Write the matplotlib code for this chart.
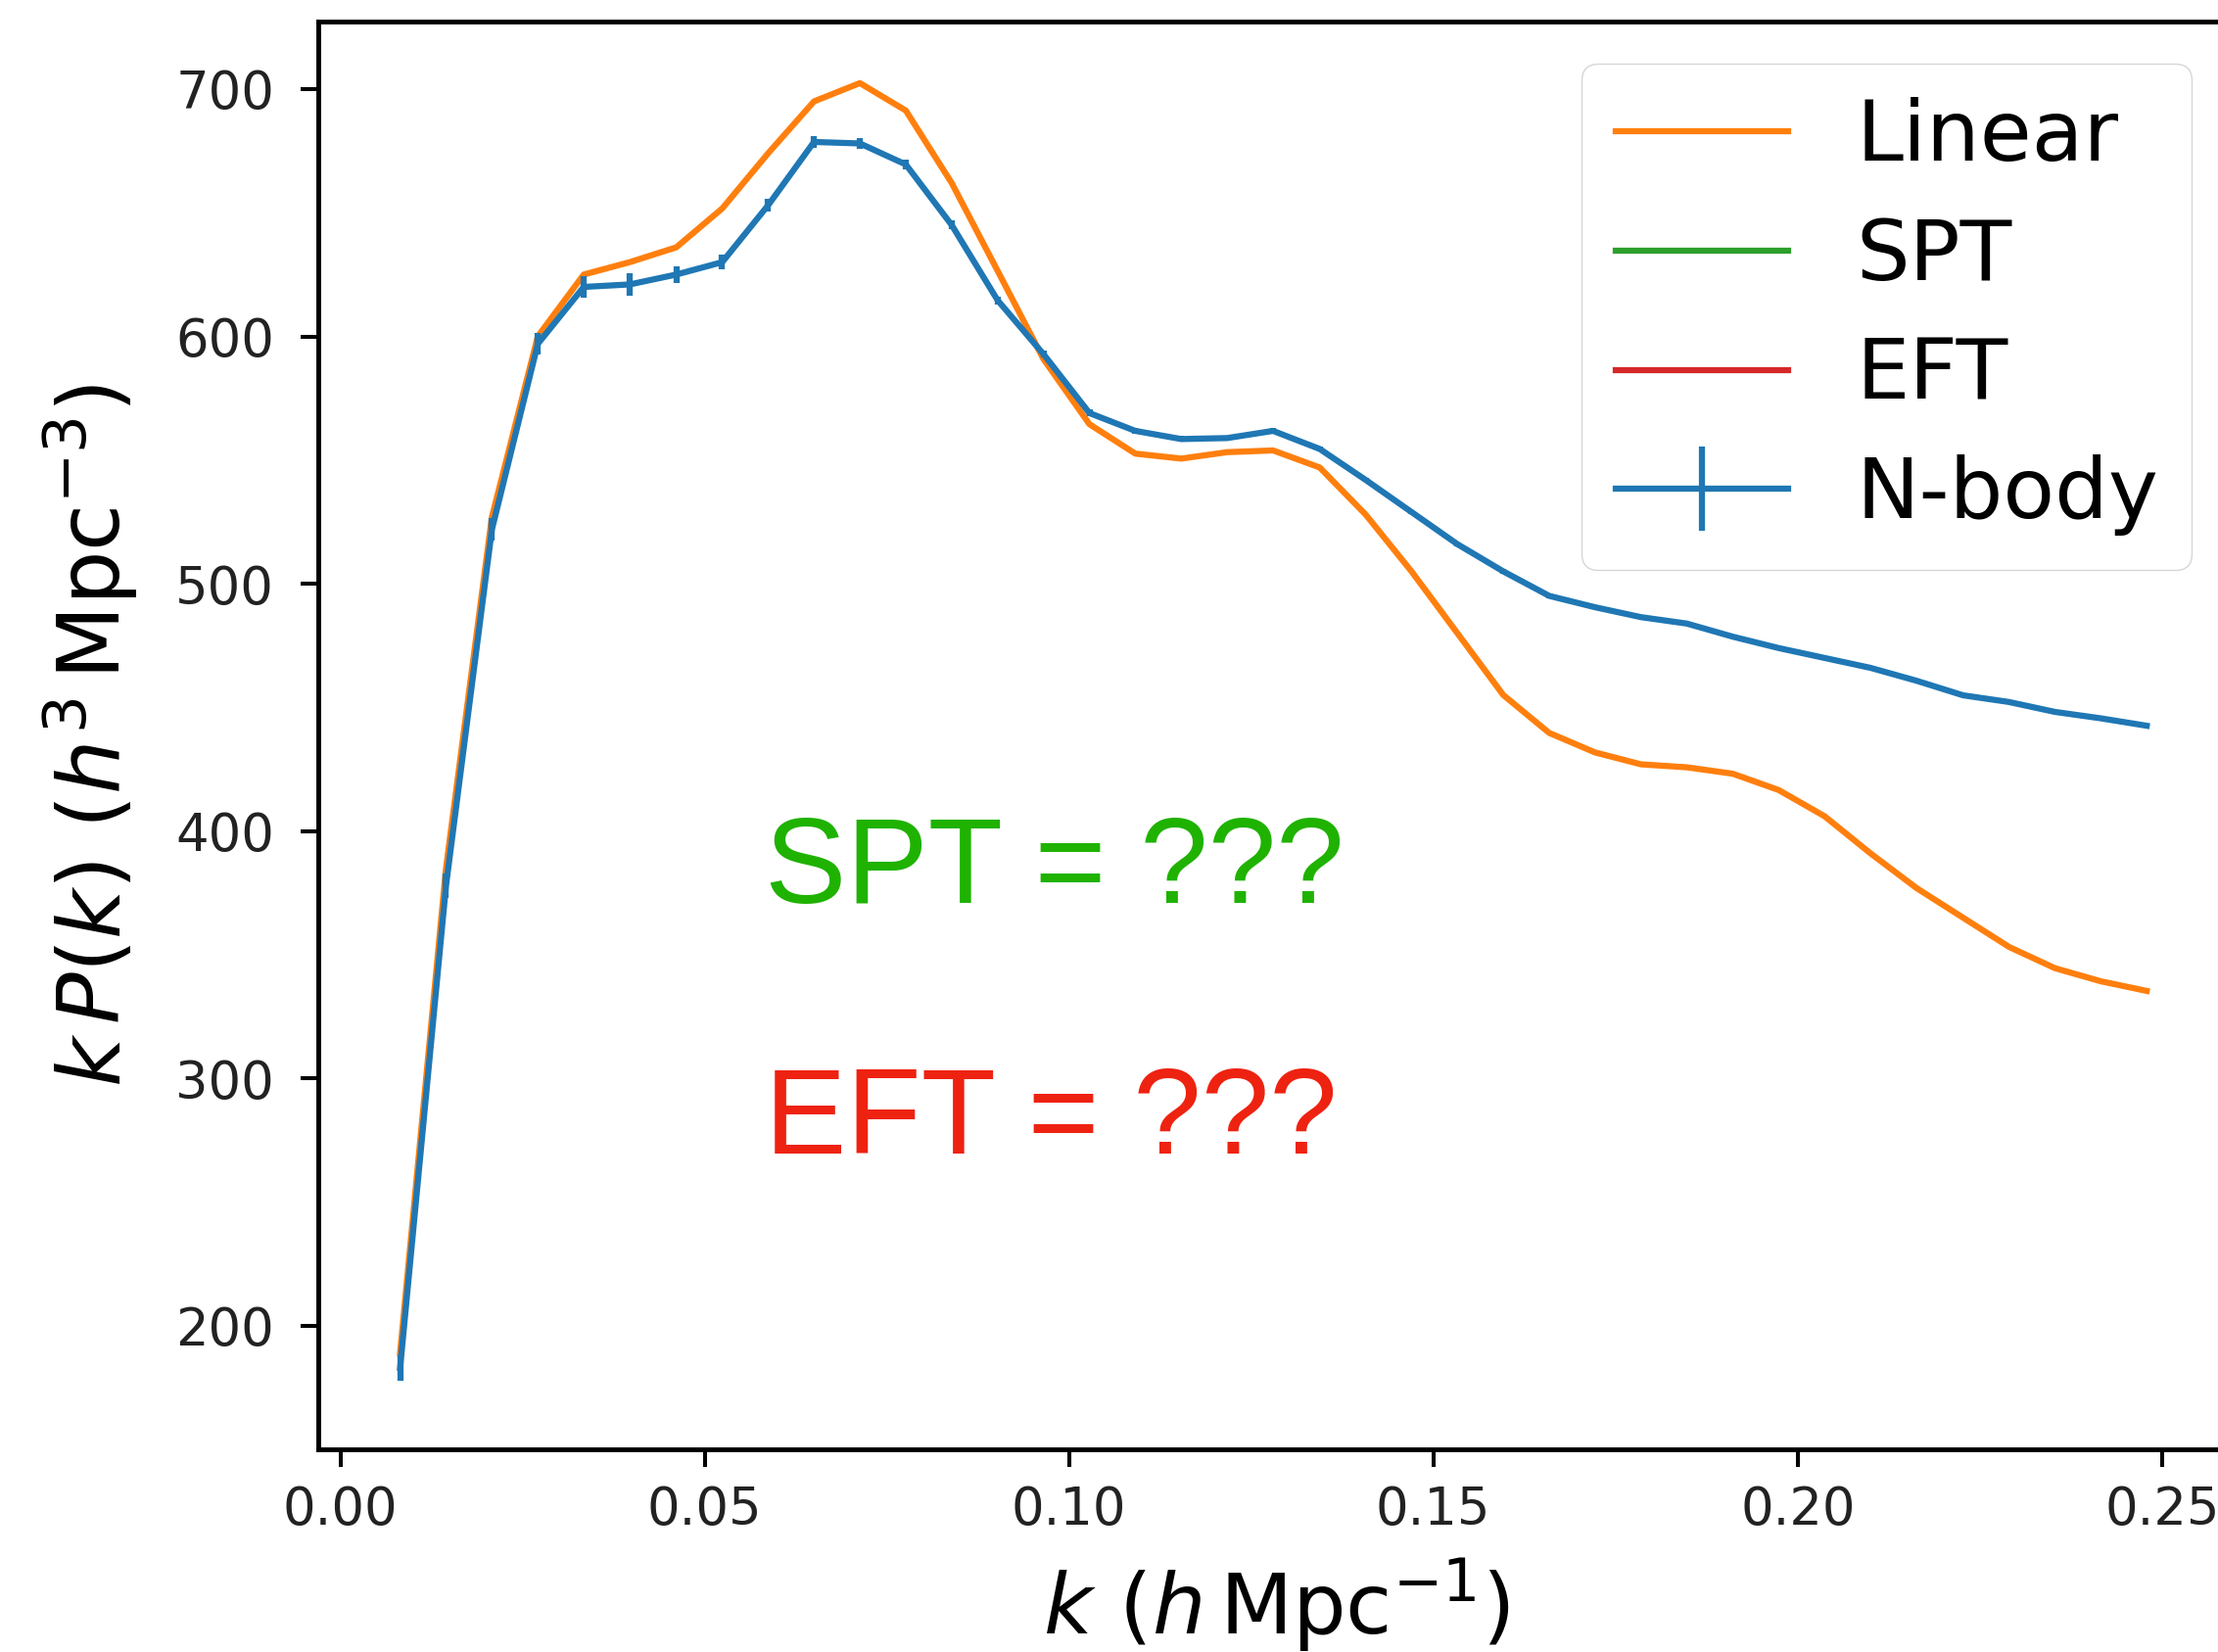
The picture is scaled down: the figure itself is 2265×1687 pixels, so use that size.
import matplotlib
matplotlib.use("Agg")
import matplotlib.pyplot as plt

# k bins (h/Mpc)
k = [0.0082, 0.0145, 0.0208, 0.0271, 0.0334, 0.0397, 0.0461, 0.0524, 0.0587, 0.0650,
     0.0713, 0.0776, 0.0839, 0.0902, 0.0965, 0.1028, 0.1091, 0.1154, 0.1217, 0.1280,
     0.1344, 0.1407, 0.1470, 0.1533, 0.1596, 0.1659, 0.1722, 0.1785, 0.1848, 0.1911,
     0.1974, 0.2037, 0.2100, 0.2163, 0.2227, 0.2290, 0.2353, 0.2416, 0.2479]

# k P(k), linear theory
kp_linear = [189, 385, 527, 600, 625, 630, 636, 651.7, 674, 695,
             702.4, 691.3, 662, 626.5, 590.8, 564.5, 552.6, 550.6, 553.2, 553.9,
             547, 528, 505, 480, 455, 439.7, 431.8, 427, 425.8, 423.2,
             416.6, 406, 391, 377, 365, 353.2, 344.6, 339.3, 335.4]

# k P(k), N-body measurement and its error
kp_nbody = [183, 378, 522, 597, 620, 621, 625, 630, 653, 678.6,
            678, 669.5, 645, 614.6, 592.8, 569, 561.8, 558.5, 558.9, 561.8,
            554.5, 542, 529, 516, 505, 495.1, 490.5, 486.5, 483.9, 478.6,
            474, 470, 466, 460.8, 454.9, 452.2, 448.2, 445.6, 442.6]
kp_nbody_err = [5.2, 5.0, 4.6, 4.5, 4.5, 4.5, 3.5, 3.0, 2.5, 2.5,
                2.0, 2.0, 1.8, 1.6, 1.5, 1.4, 1.3, 1.2, 1.1, 1.0,
                1.0, 0.9, 0.9, 0.8, 0.8, 0.8, 0.7, 0.7, 0.7, 0.7,
                0.6, 0.6, 0.6, 0.6, 0.6, 0.5, 0.5, 0.5, 0.5]

# SPT / EFT curves not shown yet
spt_k, spt_kp = [], []
eft_k, eft_kp = [], []

xticks = [0.00, 0.05, 0.10, 0.15, 0.20, 0.25]
yticks = [200, 300, 400, 500, 600, 700]

lw = 4.5

fig = plt.figure(figsize=(22.65, 16.87), dpi=100)
ax = fig.add_axes([0.14327, 0.12270, 0.86402, 0.86444])

ax.plot(k, kp_linear, color='C1', lw=lw, label='Linear')
ax.plot(spt_k, spt_kp, color='C2', lw=lw, label='SPT')
ax.plot(eft_k, eft_kp, color='C3', lw=lw, label='EFT')
ax.errorbar(k, kp_nbody, yerr=kp_nbody_err, color='C0', lw=lw, elinewidth=lw,
            capsize=0, label='N-body')

ax.set_xlim(-0.0031, 0.2599)
ax.set_ylim(150.1, 727.4)
ax.set_xticks(xticks)
ax.set_yticks(yticks)
ax.xaxis.set_major_formatter(matplotlib.ticker.FormatStrFormatter('%.2f'))

for s in ax.spines.values():
    s.set_linewidth(3.5)
ax.tick_params(axis='both', labelsize=38, length=13, width=2.9, labelcolor='#222222')
ax.tick_params(axis='x', pad=13)
ax.tick_params(axis='y', pad=19)

ax.set_xlabel(r'$k\ (h\,\mathrm{Mpc}^{-1})$', fontsize=62, labelpad=15)
ax.set_ylabel(r'$k\,P(k)\ (h^3\,\mathrm{Mpc}^{-3})$', fontsize=63, labelpad=26)

ax.legend(loc='upper right', fontsize=62, labelspacing=0.45, handlelength=2.05)

ax.text(0.0583, 371, 'SPT = ???', color='#1fb200', fontsize=90,
        family='Liberation Sans', ha='left', va='baseline')
ax.text(0.0583, 269.7, 'EFT = ???', color='#ee2211', fontsize=90,
        family='Liberation Sans', ha='left', va='baseline')

fig.savefig('out.png', dpi=100)
